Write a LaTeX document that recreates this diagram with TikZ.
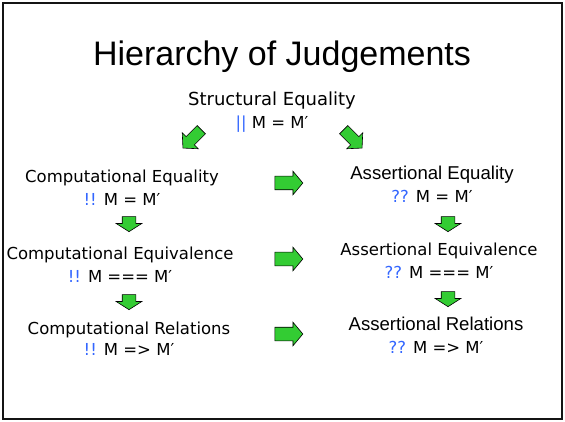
\documentclass[tikz,border=0pt]{standalone}
\usepackage{fontspec}
\newfontfamily\comicfont{DejaVu Sans}
\newfontfamily\arialfont{Liberation Sans}
\usetikzlibrary{positioning, shapes.arrows}
\definecolor{jGreen}{HTML}{33CC33}
\definecolor{jBlue}{HTML}{3366FF}
\definecolor{jFrame}{HTML}{141414}
\tikzset{
    % Text styles
    judgeName/.style={
        font=\comicfont\fontsize{16.5}{20}\selectfont,
        inner sep=0pt,
        anchor=base
    },
    judgeNameAlt/.style={judgeName, font=\arialfont\fontsize{18.6}{22}\selectfont},
    judgeForm/.style={font=\comicfont\fontsize{16.5}{20}\selectfont, inner sep=0pt},
    % Block arrows
    blockArrowBase/.style={
        single arrow,
        draw=black,
        line width=0.6pt,
        fill=jGreen,
        inner sep=0pt
    },
    sideArrow/.style={blockArrowBase, minimum height=28pt, inner ysep=6.5pt,
        single arrow head extend=5pt, single arrow tip angle=100},
    downArrow/.style={blockArrowBase, rotate=-90, minimum height=15pt, inner ysep=6.5pt,
        single arrow head extend=6pt, single arrow tip angle=115},
    diagArrow/.style={blockArrowBase, minimum height=26pt, inner ysep=5.5pt,
        single arrow head extend=5.5pt, single arrow tip angle=95}
}

\begin{document}
\begin{tikzpicture}[x=1pt, y=-1pt]
\useasboundingbox (0,0) rectangle (565,422);
\draw[line width=2pt, draw=jFrame] (3,3) rectangle (562,419);

\node[font=\arialfont\fontsize{34}{40}\selectfont, anchor=base] (title) at (282,66) {Hierarchy of Judgements};

\node[judgeName, font=\comicfont\fontsize{18}{22}\selectfont] (struct) at (272,106) {Structural Equality};
\node[judgeForm, below=23pt of struct.base, anchor=base] (structF) {{\color{jBlue}||} M = M′};

% computational side
\node[judgeName] (ceq) at (122,183) {Computational Equality};
\node[judgeForm, below=23pt of ceq.base, anchor=base] (ceqF) {{\color{jBlue}!!} M = M′};
\node[judgeName] (ceqv) at (120,259) {Computational Equivalence};
\node[judgeForm, below=23pt of ceqv.base, anchor=base] (ceqvF) {{\color{jBlue}!!} M === M′};
\node[judgeName] (crel) at (129,334) {Computational Relations};
\node[judgeForm, below=21pt of crel.base, anchor=base] (crelF) {{\color{jBlue}!!} M => M′};

% assertional side
\node[judgeNameAlt] (aeq) at (432,180) {Assertional Equality};
\node[judgeForm, below=23pt of aeq.base, anchor=base] (aeqF) {{\color{jBlue}??} M = M′};
\node[judgeName] (aeqv) at (439,255) {Assertional Equivalence};
\node[judgeForm, below=23pt of aeqv.base, anchor=base] (aeqvF) {{\color{jBlue}??} M === M′};
\node[judgeNameAlt] (arel) at (436,330) {Assertional Relations};
\node[judgeForm, below=23pt of arel.base, anchor=base] (arelF) {{\color{jBlue}??} M => M′};

% arrows
\node[diagArrow, rotate=-135] (toComp) at (194,137) {};
\node[diagArrow, rotate=-45] (toAssert) at (351,137) {};

\node[downArrow] (cDown1) at (129,222) {};
\node[downArrow] (cDown2) at (129,300) {};
\node[downArrow] (aDown1) at (448,222) {};
\node[downArrow] (aDown2) at (448,297) {};

\coordinate (midCol) at (286,0);
\node[sideArrow] (side1) at (ceq.base -| midCol) {};
\node[sideArrow] (side2) at (ceqv.base -| midCol) {};
\node[sideArrow] (side3) at (crel.base -| midCol) {};
\end{tikzpicture}
\end{document}
